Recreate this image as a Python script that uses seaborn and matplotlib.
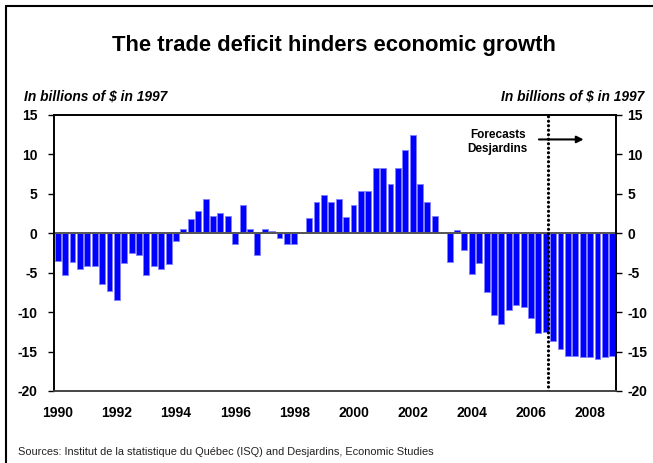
import matplotlib
matplotlib.use("Agg")
import matplotlib.pyplot as plt
import seaborn as sns
import pandas as pd

# Quarterly trade balance, 1990Q1 to 2008Q4 (billions of 1997 dollars)
years = list(range(1990, 2009))
quarters = [f"{y}Q{q}" for y in years for q in range(1, 5)]
balance = [
    -3.5, -5.3, -3.6, -4.5,    # 1990
    -4.1, -4.2, -6.4, -7.3,    # 1991
    -8.4, -3.8, -2.5, -2.7,    # 1992
    -5.3, -4.1, -4.5, -3.9,    # 1993
    -1.0, 0.5, 1.8, 2.8,       # 1994
    4.3, 2.2, 2.6, 2.2,        # 1995
    -1.3, 3.6, 0.6, -2.7,      # 1996
    0.6, 0.3, -0.6, -1.4,      # 1997
    -1.3, 0.0, 1.9, 4.0,       # 1998
    4.9, 4.0, 4.3, 2.1,        # 1999
    3.6, 5.4, 5.4, 8.3,        # 2000
    8.3, 6.3, 8.3, 10.5,       # 2001
    12.5, 6.3, 4.0, 2.2,       # 2002
    0.0, -3.6, 0.4, -2.1,      # 2003
    -5.1, -3.8, -7.5, -10.3,   # 2004
    -11.5, -9.7, -9.1, -9.3,   # 2005
    -10.8, -12.6, -12.5, -13.7,  # 2006
    -14.7, -15.5, -15.6, -15.7,  # 2007
    -15.7, -15.9, -15.7, -15.6,  # 2008
]
year_labels = [str(y) for y in range(1990, 2009, 2)]
y_ticks = [15, 10, 5, 0, -5, -10, -15, -20]
forecast_start = 66.3  # position (in quarters from 1990Q1) where forecasts begin

df = pd.DataFrame({"quarter": quarters, "balance": balance})

sns.set_theme(style="white")
plt.rcParams["font.family"] = ["Liberation Sans", "DejaVu Sans"]
plt.rcParams["text.color"] = "black"

fig = plt.figure(figsize=(6.53, 4.63), dpi=100)
ax = fig.add_axes([54 / 653, 72 / 463, 562 / 653, 276 / 463])

sns.barplot(data=df, x="quarter", y="balance", color="#0000FF", saturation=1,
            width=0.8, edgecolor="#7f7fff", linewidth=0.6, ax=ax)

ax.set_xlim(-0.5, len(quarters) - 0.5)
ax.set_ylim(-20, 15)
ax.set_xlabel("")
ax.set_ylabel("")

ax.set_xticks(range(0, len(quarters), 8))
ax.set_xticklabels(year_labels, fontsize=10, fontweight="bold")
ax.tick_params(axis="x", length=0, pad=11, colors="black")

ax.set_yticks(y_ticks)
ax.set_yticklabels([str(v) for v in y_ticks], fontsize=10, fontweight="bold")
ax.tick_params(axis="y", left=True, length=4, width=1, pad=8, colors="black")

ax2 = ax.twinx()
ax2.set_ylim(-20, 15)
ax2.set_yticks(y_ticks)
ax2.set_yticklabels([str(v) for v in y_ticks], fontsize=10, fontweight="bold")
ax2.tick_params(axis="y", right=True, length=4, width=1, pad=4, colors="black")
ax2.grid(False)

for a in (ax, ax2):
    for side in ("left", "right", "top"):
        a.spines[side].set_color("black")
        a.spines[side].set_linewidth(1.2)
    a.spines["bottom"].set_color("#444444")
    a.spines["bottom"].set_linewidth(1.2)
ax.grid(False)

ax.axhline(0, color="#555555", linewidth=1.4, zorder=3)
ax.axvline(forecast_start, color="black", linestyle=(0, (0.01, 1.4)),
           linewidth=2.3, dash_capstyle="round", zorder=4)

ax.text(59.5, 12.5, "Forecasts", ha="center", va="center",
        fontsize=8.5, fontweight="bold", color="black")
ax.text(59.5, 10.7, "Desjardins", ha="center", va="center",
        fontsize=8.5, fontweight="bold", color="black")
ax.annotate("", xy=(71.5, 11.9), xytext=(64.7, 11.9),
            arrowprops=dict(arrowstyle="-|>", color="black", lw=1.5,
                            mutation_scale=10), zorder=5)

fig.text(334 / 653, 1 - 46 / 463, "The trade deficit hinders economic growth",
         ha="center", va="center", fontsize=15.8, fontweight="bold", color="black")
fig.text(24 / 653, 1 - 97 / 463, "In billions of $ in 1997", ha="left", va="center",
         fontsize=9.9, fontweight="bold", fontstyle="italic", color="black")
fig.text(644 / 653, 1 - 97 / 463, "In billions of $ in 1997", ha="right", va="center",
         fontsize=9.9, fontweight="bold", fontstyle="italic", color="black")
fig.text(18 / 653, 1 - 452 / 463,
         "Sources: Institut de la statistique du Québec (ISQ) and Desjardins, Economic Studies",
         ha="left", va="center", fontsize=7.9, color="#222222")

# Page frame: left and top rules
fig.add_artist(plt.Line2D([6 / 653, 6 / 653], [0, 1 - 6 / 463], color="black",
                          linewidth=1.5, transform=fig.transFigure))
fig.add_artist(plt.Line2D([6 / 653, 1], [1 - 6 / 463, 1 - 6 / 463], color="black",
                          linewidth=1.5, transform=fig.transFigure))

fig.savefig("out.png", dpi=100)
